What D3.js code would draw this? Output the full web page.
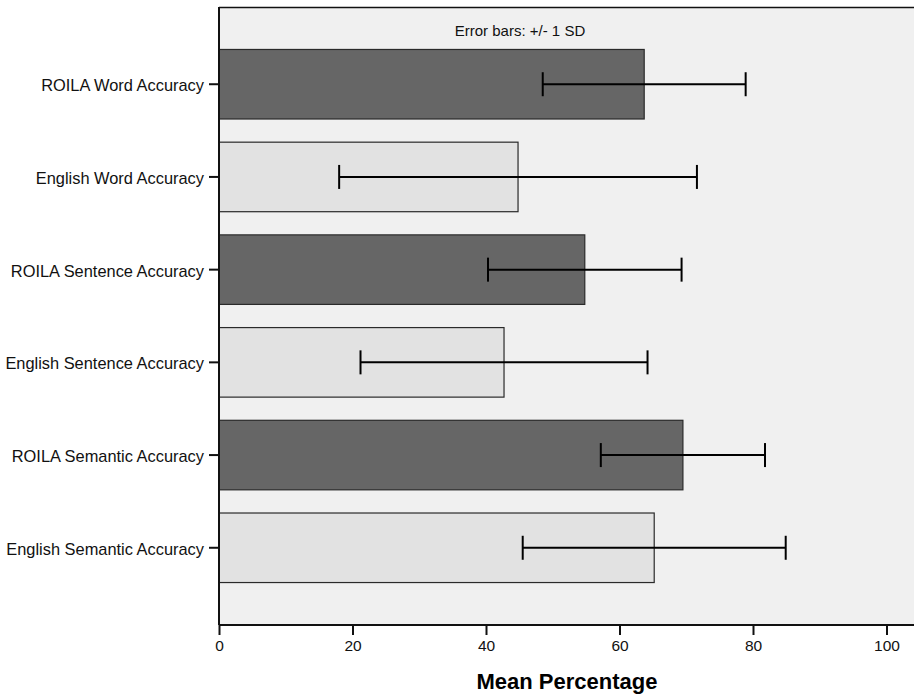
<!DOCTYPE html>
<html><head><meta charset="utf-8">
<script src="https://cdn.jsdelivr.net/npm/d3@7"></script>
<style>body{margin:0;background:#fff;} svg{display:block;font-family:"Liberation Sans",Arial,sans-serif;}</style>
</head><body>
<svg id="c" width="914" height="695"></svg>
<script>
const categories = ["ROILA Word Accuracy","English Word Accuracy","ROILA Sentence Accuracy","English Sentence Accuracy","ROILA Semantic Accuracy","English Semantic Accuracy"];
const language = ["ROILA","English","ROILA","English","ROILA","English"];
const means = [63.7, 44.8, 54.8, 42.7, 69.5, 65.2];
const sds = [15.2, 26.8, 14.5, 21.5, 12.3, 19.7];
const xTicks = [0,20,40,60,80,100];
const colors = {ROILA:"#666666", English:"#e2e2e2"};

const svg = d3.select("#c");
const L=219, R=914, T=7, B=625;
const x = d3.scaleLinear().domain([0,100]).range([L, 886.5]);
const y = d3.scaleBand().domain(categories).range([T,B]).paddingInner(0.25).paddingOuter(0.458);

svg.append("rect").attr("x",L).attr("y",T).attr("width",R-L).attr("height",B-T).attr("fill","#f0f0f0");
svg.append("line").attr("x1",L).attr("x2",R).attr("y1",T+0.5).attr("y2",T+0.5).attr("stroke","#111").attr("stroke-width",1.5);

svg.append("text").attr("x",520).attr("y",36).attr("text-anchor","middle").attr("font-size","15px").attr("fill","#111").text("Error bars: +/- 1 SD");

const bars = svg.append("g");
categories.forEach((c,i)=>{
  bars.append("rect").attr("x",x(0)).attr("y",y(c)).attr("width",x(means[i])-x(0)).attr("height",y.bandwidth())
    .attr("fill",colors[language[i]]).attr("stroke","#2a2a2a").attr("stroke-width",1.2);
});
const eb = svg.append("g").attr("stroke","#000").attr("stroke-width",2);
categories.forEach((c,i)=>{
  const cy = y(c)+y.bandwidth()/2;
  const lo = x(means[i]-sds[i]), hi = x(means[i]+sds[i]);
  eb.append("line").attr("x1",lo).attr("x2",hi).attr("y1",cy).attr("y2",cy);
  eb.append("line").attr("x1",lo).attr("x2",lo).attr("y1",cy-12).attr("y2",cy+12);
  eb.append("line").attr("x1",hi).attr("x2",hi).attr("y1",cy-12).attr("y2",cy+12);
});

const xAxis = svg.append("g").attr("transform",`translate(0,${B})`)
  .call(d3.axisBottom(x).tickValues(xTicks).tickSize(10).tickPadding(5).tickSizeOuter(0));
xAxis.select(".domain").attr("d",`M${L},0H${R}`).attr("stroke","#111").attr("stroke-width",2);
xAxis.selectAll(".tick line").attr("stroke","#111").attr("stroke-width",2);
xAxis.selectAll("text").attr("font-size","15.5px").attr("fill","#111").attr("font-family","Liberation Sans, Arial, sans-serif");

const yAxis = svg.append("g").attr("transform",`translate(${L},0)`)
  .call(d3.axisLeft(y).tickSize(10).tickPadding(5).tickSizeOuter(0));
yAxis.select(".domain").attr("d",`M0,${T}V${B}`).attr("stroke","#111").attr("stroke-width",2);
yAxis.selectAll(".tick line").attr("stroke","#111").attr("stroke-width",2);
yAxis.selectAll("text").attr("font-size","16.4px").attr("dy","0.42em").attr("fill","#111").attr("font-family","Liberation Sans, Arial, sans-serif");

svg.append("text").attr("x",567).attr("y",689).attr("text-anchor","middle").attr("font-size","22px").attr("font-weight","bold").attr("fill","#000").text("Mean Percentage");
</script>
</body></html>
